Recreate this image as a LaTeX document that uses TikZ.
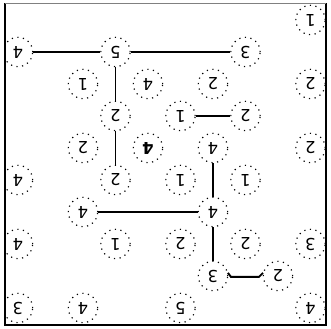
\documentclass[tikz,border=0pt]{standalone}
\usepackage{graphicx}
\usepackage{fontspec}
\setmainfont{DejaVu Sans}
\usetikzlibrary{positioning}
\newcommand{\flip}[1]{\rotatebox[origin=c]{180}{#1}}

\begin{document}
\begin{tikzpicture}[
    x=0.03cm, y=-0.03cm,
    island/.style={circle, draw, dash pattern=on 1pt off 3.8pt, line width=1pt,
        minimum size=0.88cm, inner sep=0pt, font=\fontsize{14}{14}\selectfont},
    bridge/.style={line width=1.6pt},
]
\useasboundingbox (0,0) rectangle (331,328);

\begin{scope}
\clip (5,3) rectangle (326,325);
% islands: col/row/number
\foreach \col/\row/\num in {9/0/1,
    0/1/4, 3/1/5, 7/1/3,
    2/2/1, 4/2/4, 6/2/2, 9/2/2,
    3/3/2, 5/3/1, 7/3/2,
    2/4/2, 6/4/4, 9/4/2,
    0/5/4, 3/5/2, 5/5/1, 7/5/1,
    2/6/4, 6/6/4,
    0/7/4, 3/7/1, 5/7/2, 7/7/2, 9/7/3,
    6/8/3, 8/8/2,
    0/9/3, 2/9/4, 5/9/5, 9/9/4} {
    \node[island] (\row-\col) at (18+32.5*\col, 20+32*\row) {\flip{\num}};
}
\node[island, font=\fontsize{14}{14}\selectfont\bfseries] (4-4) at (18+32.5*4, 20+32*4) {\flip{4}};

% bridges
\draw[bridge] (1-0) -- (1-3);
\draw[bridge] (1-3) -- (1-7);
\draw[bridge] (1-3) -- (3-3);
\draw[bridge] (3-3) -- (5-3);
\draw[bridge] (3-5) -- (3-7);
\draw[bridge] (4-6) -- (6-6);
\draw[bridge] (6-2) -- (6-6);
\draw[bridge] (6-6) -- (8-6);
\draw[bridge] (8-6.12) -- ++(3,4) -- ([shift={(-4,4)}]8-8.168) -- (8-8.168);
\end{scope}

% frame
\draw[line width=1.5pt] (5,3) -- (5,325) -- (326,325) -- (326,3);
\draw[gray, line width=0.6pt] (5,3) -- (326,3);
\end{tikzpicture}
\end{document}
